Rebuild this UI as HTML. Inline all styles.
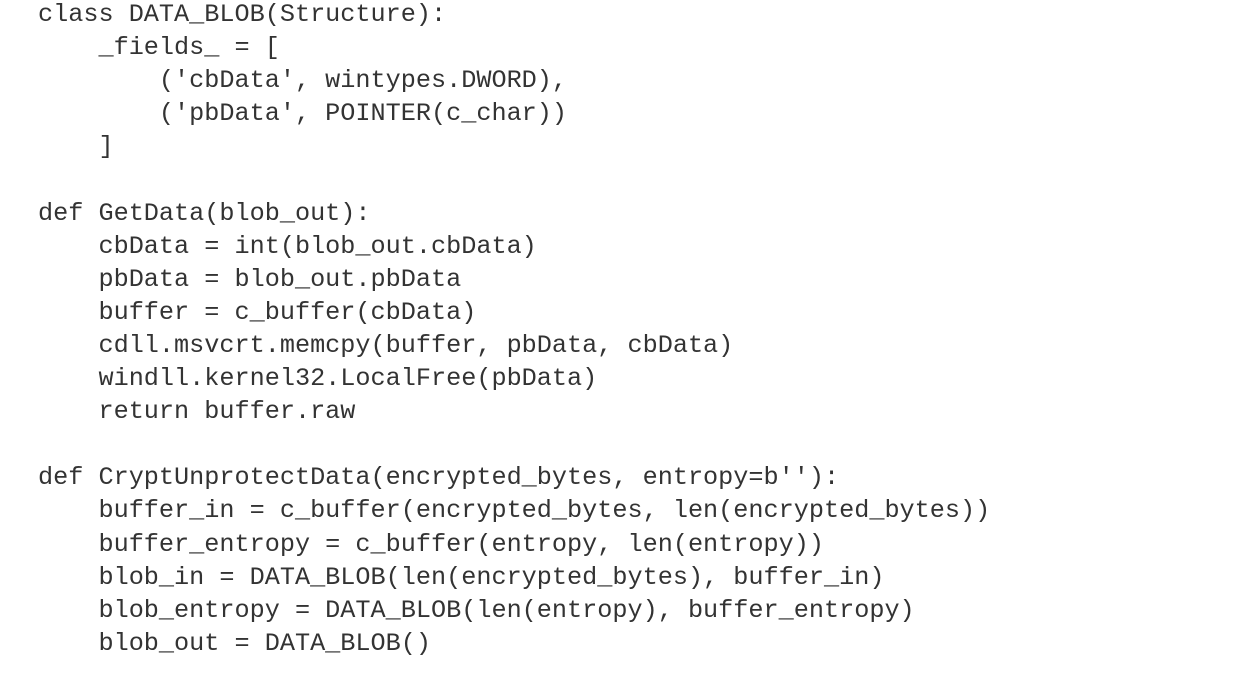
<!DOCTYPE html>
<html><head><meta charset="utf-8"><style>
html,body{margin:0;padding:0;background:#fff;width:1241px;height:698px;overflow:hidden}
pre{position:absolute;left:38px;top:-2px;margin:0;font-family:"Liberation Mono",monospace;font-size:25.2px;line-height:33.1px;color:#333}
</style></head><body><pre>class DATA_BLOB(Structure):
    _fields_ = [
        ('cbData', wintypes.DWORD),
        ('pbData', POINTER(c_char))
    ]

def GetData(blob_out):
    cbData = int(blob_out.cbData)
    pbData = blob_out.pbData
    buffer = c_buffer(cbData)
    cdll.msvcrt.memcpy(buffer, pbData, cbData)
    windll.kernel32.LocalFree(pbData)
    return buffer.raw

def CryptUnprotectData(encrypted_bytes, entropy=b''):
    buffer_in = c_buffer(encrypted_bytes, len(encrypted_bytes))
    buffer_entropy = c_buffer(entropy, len(entropy))
    blob_in = DATA_BLOB(len(encrypted_bytes), buffer_in)
    blob_entropy = DATA_BLOB(len(entropy), buffer_entropy)
    blob_out = DATA_BLOB()</pre></body></html>
